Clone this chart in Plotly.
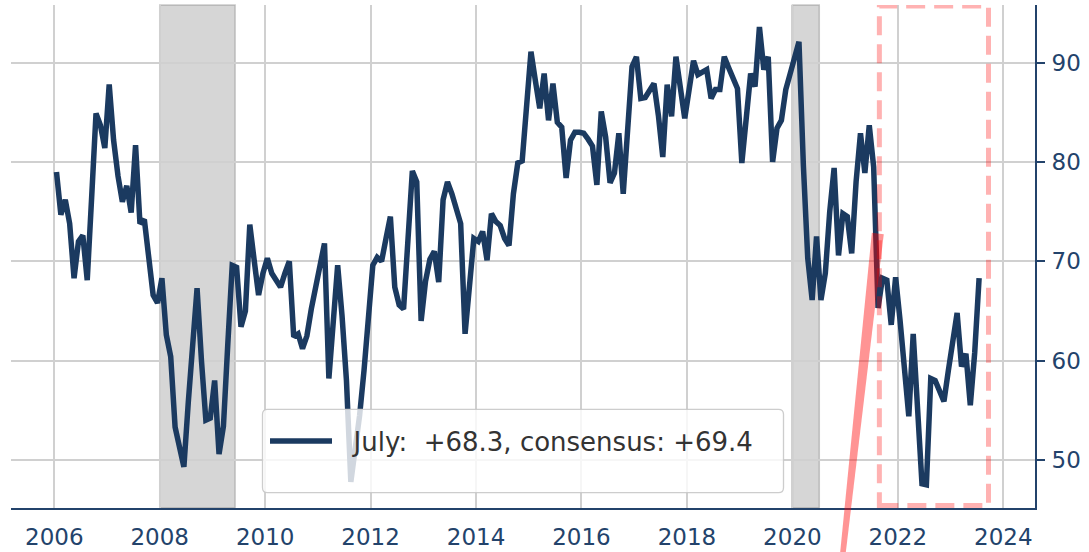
import plotly.graph_objects as go

# ---------------- data (UMich consumer expectations, monthly) ----------------
v2006 = [79.0, 74.7, 76.2, 73.8, 68.3, 72.0, 72.6, 68.1, 76.4, 84.9, 83.7, 81.4]
v2007 = [87.8, 82.2, 78.6, 76.0, 77.6, 74.9, 81.7, 73.8, 74.2, 70.4, 66.6, 65.8]
v2008 = [68.3, 62.6, 60.4, 53.3, 51.3, 49.3, 55.8, 61.8, 67.3, 60.0, 54.0, 54.2]
v2009 = [58.0, 50.6, 53.4, 61.7, 69.6, 69.4, 63.4, 65.0, 73.7, 70.1, 66.6, 68.8]
v2010 = [70.3, 68.8, 68.1, 67.4, 68.8, 70.0, 62.4, 62.7, 61.2, 62.5, 65.2, 67.8]
v2011 = [69.6, 71.8, 58.2, 63.9, 69.6, 64.5, 58.0, 47.8, 51.0, 54.5, 59.0, 65.0]
v2012 = [69.6, 70.4, 70.0, 72.3, 74.5, 67.4, 65.6, 65.2, 72.0, 79.1, 78.0, 64.0]
v2013 = [68.0, 70.2, 71.0, 67.9, 76.2, 78.0, 76.8, 75.5, 73.8, 62.7, 67.3, 72.3]
v2014 = [72.0, 73.0, 70.1, 74.8, 74.0, 73.6, 72.3, 71.6, 76.8, 79.9, 80.1, 85.7]
v2015 = [91.1, 88.2, 85.4, 88.9, 84.2, 87.9, 84.0, 83.5, 78.4, 82.2, 83.0, 83.0]
v2016 = [82.9, 82.3, 81.6, 77.7, 85.1, 82.5, 77.9, 78.9, 82.9, 76.8, 83.1, 89.6]
v2017 = [90.6, 86.4, 86.5, 87.2, 87.9, 84.7, 80.5, 87.8, 84.6, 90.6, 87.5, 84.4]
v2018 = [87.3, 90.2, 88.8, 89.0, 89.3, 86.4, 87.3, 87.3, 90.6, 89.5, 88.5, 87.4]
v2019 = [79.9, 84.2, 88.9, 87.6, 93.6, 89.3, 90.6, 80.0, 83.4, 84.2, 87.3, 88.9]
v2020 = [90.5, 92.1, 79.7, 70.3, 66.1, 72.5, 66.1, 68.8, 75.0, 79.4, 70.6, 74.8]
v2021 = [74.5, 70.8, 78.0, 82.9, 78.9, 83.7, 79.5, 65.3, 68.3, 68.1, 63.6, 68.4]
v2022 = [64.1, 59.4, 54.4, 62.7, 55.5, 47.6, 47.5, 58.2, 58.0, 56.9, 55.9, 59.0]
v2023 = [62.0, 64.8, 59.4, 60.7, 55.5, 60.8, 68.3]

YEARS = list(range(2006, 2024))
SERIES_BY_YEAR = [v2006, v2007, v2008, v2009, v2010, v2011, v2012, v2013, v2014,
                  v2015, v2016, v2017, v2018, v2019, v2020, v2021, v2022, v2023]

X_TICKS = [2006, 2008, 2010, 2012, 2014, 2016, 2018, 2020, 2022, 2024]
Y_TICKS = [50, 60, 70, 80, 90]

RECESSIONS = [(2008.0, 2009.43), (2020.0, 2020.51)]
HIGHLIGHT_X = (2021.65, 2023.72)
HIGHLIGHT_Y = (45.4, 95.7)
ARROW_HEAD = (2021.62, 72.8)   # data coords
ARROW_TAIL = (2020.96, 40.7)   # data coords (below the axis)

LEGEND_LABEL = "\u00a0\u00a0July:\u00a0 +68.3, consensus: +69.4"

# ---------------- build x positions (mid-month) ----------------
x_vals, y_vals = [], []
for yr, vals in zip(YEARS, SERIES_BY_YEAR):
    for i, v in enumerate(vals):
        x_vals.append(yr + (i + 0.5) / 12.0)
        y_vals.append(v)

# ---------------- layout geometry ----------------
W, H = 1089, 552
ML, MR, MT, MB = 11, 54, 5, 44
XR = [2005.179, 2024.602]
YR = [45.16, 95.81]
PW, PH = W - ML - MR, H - MT - MB

NAVY = "#1b3a60"
AXC = "#23436b"
FONT = "DejaVu Sans"


def to_paper(xd, yd):
    return ((xd - XR[0]) / (XR[1] - XR[0]), (yd - YR[0]) / (YR[1] - YR[0]))


fig = go.Figure()
fig.add_trace(go.Scatter(x=x_vals, y=y_vals, mode="lines", name=LEGEND_LABEL,
                         line=dict(color=NAVY, width=5.5), hoverinfo="x+y"))

shapes = []
for a, b in RECESSIONS:
    shapes.append(dict(type="rect", xref="x", yref="paper", x0=a, x1=b, y0=0, y1=1,
                       fillcolor="rgba(128,128,128,0.32)",
                       line=dict(color="rgba(110,110,110,0.35)", width=1.5),
                       layer="between"))

shapes.append(dict(type="rect", xref="x", yref="y", x0=HIGHLIGHT_X[0], x1=HIGHLIGHT_X[1],
                   y0=HIGHLIGHT_Y[0], y1=HIGHLIGHT_Y[1], fillcolor="rgba(0,0,0,0)",
                   line=dict(color="rgba(255,0,0,0.3)", width=5, dash="19px,9px"),
                   layer="above"))

# tapered arrow (polygon in paper coords)
hx, hy = to_paper(*ARROW_HEAD)
tx, ty = to_paper(*ARROW_TAIL)
hpx, hpy = hx * PW, hy * PH
tpx, tpy = tx * PW, ty * PH
dx, dy = hpx - tpx, hpy - tpy
L = (dx ** 2 + dy ** 2) ** 0.5
nx, ny = -dy / L, dx / L
wh, wt = 6.0, 2.8
pts = [(tpx + nx * wt, tpy + ny * wt), (hpx + nx * wh, hpy + ny * wh),
       (hpx - nx * wh, hpy - ny * wh), (tpx - nx * wt, tpy - ny * wt)]
path = "M " + " L ".join(f"{px / PW:.5f},{py / PH:.5f}" for px, py in pts) + " Z"
shapes.append(dict(type="path", xref="paper", yref="paper", path=path,
                   fillcolor="rgba(255,0,0,0.42)", line=dict(width=0), layer="above"))

# legend box (rounded) in pixel -> paper
bx0, bx1, by0, by1 = 262.5, 783.5, 409.3, 492.7
r = 5
def P(px, py):
    return f"{(px - ML) / PW:.5f},{(H - MB - py) / PH:.5f}"
lpath = (f"M {P(bx0 + r, by0)} L {P(bx1 - r, by0)} Q {P(bx1, by0)} {P(bx1, by0 + r)} "
         f"L {P(bx1, by1 - r)} Q {P(bx1, by1)} {P(bx1 - r, by1)} "
         f"L {P(bx0 + r, by1)} Q {P(bx0, by1)} {P(bx0, by1 - r)} "
         f"L {P(bx0, by0 + r)} Q {P(bx0, by0)} {P(bx0 + r, by0)} Z")
shapes.append(dict(type="path", xref="paper", yref="paper", path=lpath,
                   fillcolor="rgba(255,255,255,0.8)",
                   line=dict(color="rgba(200,200,200,0.9)", width=1.3), layer="above"))

fig.update_layout(
    width=W, height=H,
    margin=dict(l=ML, r=MR, t=MT, b=MB, pad=0, autoexpand=False),
    paper_bgcolor="white", plot_bgcolor="white",
    font=dict(family=FONT, size=23, color=AXC),
    shapes=shapes,
    showlegend=True,
    legend=dict(x=(265 - ML) / PW, y=(H - MB - 441) / PH, xanchor="left", yanchor="middle",
                bgcolor="rgba(0,0,0,0)", borderwidth=0, itemwidth=62,
                font=dict(family=FONT, size=26, color="#333333")),
    xaxis=dict(range=XR, tickmode="array", tickvals=X_TICKS, automargin=False,
               ticktext=[str(t) for t in X_TICKS], showgrid=True,
               gridcolor="#d0d0d0", gridwidth=1.5, zeroline=False,
               showline=True, linecolor=AXC, linewidth=1.5, ticks="",
               ticklabelstandoff=8,
               tickfont=dict(family=FONT, size=23, color=AXC)),
    yaxis=dict(range=YR, side="right", tickmode="array", tickvals=Y_TICKS, automargin=False,
               showgrid=True, gridcolor="#d0d0d0", gridwidth=1.5, zeroline=False,
               showline=True, linecolor=AXC, linewidth=2, ticks="outside",
               ticklen=8, tickwidth=2, tickcolor=AXC, ticklabelstandoff=2,
               tickfont=dict(family=FONT, size=23, color=AXC)),
)

fig.write_html("out.html", config={"displayModeBar": False},
               post_script="document.body.style.margin='0px';document.body.style.padding='0px';")
